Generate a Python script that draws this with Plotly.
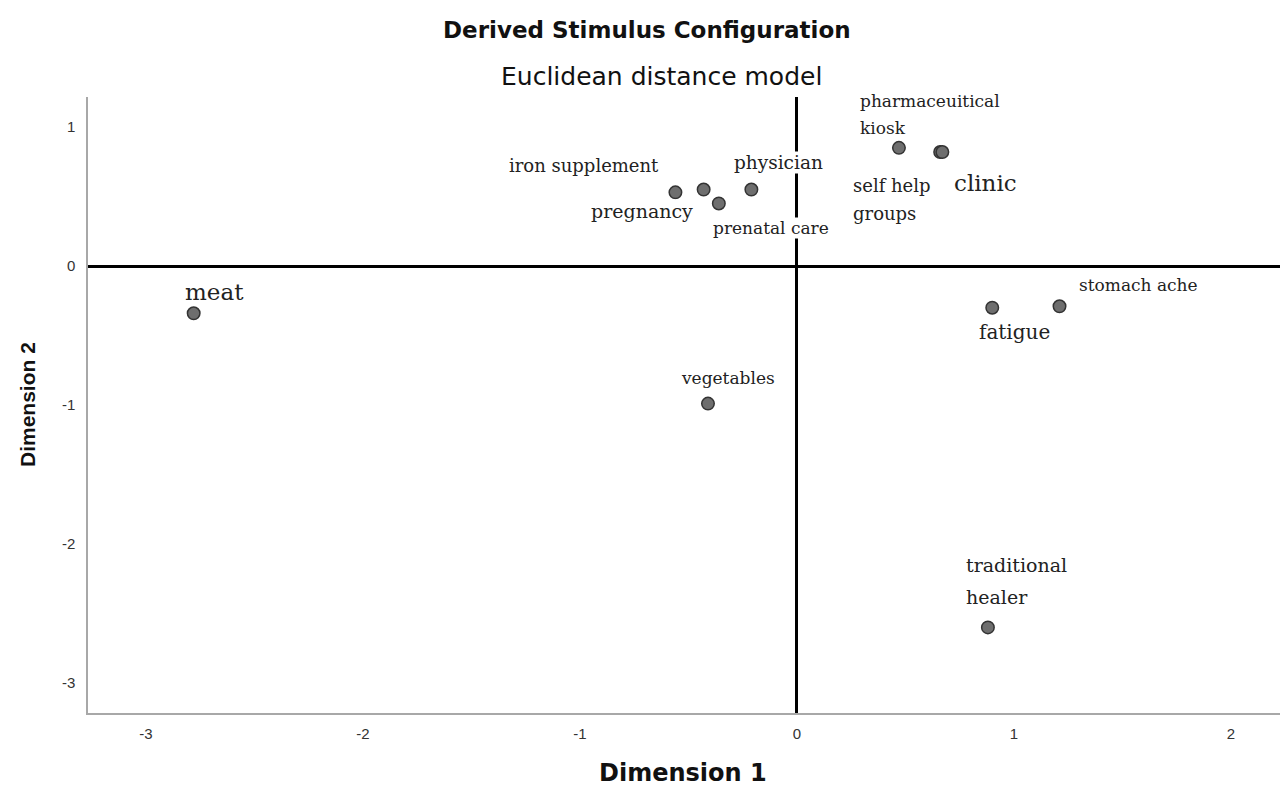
import plotly.graph_objects as go

# ---- data ----
labels = ["meat", "vegetables", "iron supplement", "pregnancy", "prenatal care",
          "physician", "pharmaceuitical<br>kiosk", "self help<br>groups", "clinic",
          "fatigue", "stomach ache", "traditional<br>healer"]
dim1 = [-2.78, -0.41, -0.56, -0.43, -0.36, -0.21, 0.47, 0.66, 0.67, 0.90, 1.21, 0.88]
dim2 = [-0.34, -0.99, 0.53, 0.55, 0.45, 0.55, 0.85, 0.82, 0.82, -0.30, -0.29, -2.60]
x_ticks = [-3, -2, -1, 0, 1, 2]
y_ticks = [1, 0, -1, -2, -3]

# ---- label placement (pixels relative to the point): xshift, yshift(first line), xanchor, size ----
label_style = [
    (21, 21, "center", 23),
    (20, 26, "center", 17),
    (-91, 27, "center", 18),
    (-62, -21, "center", 19),
    (52, -25, "center", 17),
    (27, 27, "center", 18.5),
    (-40, 47, "left", 17),
    (-88, -33, "left", 18),
    (11, -31, "left", 23),
    (22, -24, "center", 20),
    (79, 21, "center", 17),
    (-23, 62, "left", 19),
]
line_gap = [0, 0, 0, 0, 0, 0, 27, 28, 0, 0, 0, 32]

fig = go.Figure()
fig.add_trace(go.Scatter(
    x=dim1, y=dim2, mode="markers",
    marker=dict(size=12.5, color="#6e6e6e", line=dict(color="#333333", width=1.5)),
    hoverinfo="skip", showlegend=False,
))

for i, lab in enumerate(labels):
    xs, ys, xa, sz = label_style[i]
    for j, line in enumerate(lab.split("<br>")):
        fig.add_annotation(
            x=dim1[i], y=dim2[i], xref="x", yref="y", text=line, showarrow=False,
            xanchor=xa, yanchor="middle", xshift=xs, yshift=ys - j * line_gap[i],
            font=dict(family="DejaVu Sans", size=sz, color="#222222") if False else
                 dict(family="DejaVu Serif", size=sz, color="#222222"),
            bgcolor="white", borderpad=0,
        )

# titles
fig.add_annotation(x=(647 - 88) / 1192, y=1, xref="paper", yref="paper", yanchor="middle",
                   yshift=97 - 30, text="<b>Derived Stimulus Configuration</b>",
                   showarrow=False,
                   font=dict(family="DejaVu Sans", size=23, color="#111111"))
fig.add_annotation(x=(661 - 88) / 1192, y=1, xref="paper", yref="paper", yanchor="middle",
                   yshift=97 - 76, text="Euclidean distance model", showarrow=False,
                   font=dict(family="DejaVu Sans", size=25, color="#111111"))
# axis titles
fig.add_annotation(x=(683 - 88) / 1192, y=0, xref="paper", yref="paper", yanchor="middle",
                   yshift=-(773 - 713), text="<b>Dimension 1</b>", showarrow=False,
                   font=dict(family="DejaVu Sans", size=24, color="#111111"))
fig.add_annotation(x=0, y=0.5, xref="paper", yref="paper", xanchor="center", yanchor="middle",
                   xshift=-(88 - 27), textangle=-90, text="<b>Dimension 2</b>", showarrow=False,
                   font=dict(family="Liberation Sans", size=21, color="#111111"))

fig.update_xaxes(
    range=[-3.267, 2.226], tickvals=x_ticks, ticktext=[str(v) for v in x_ticks],
    showgrid=False, zeroline=True, zerolinecolor="black", zerolinewidth=3,
    showline=True, linecolor="#a8a8a8", linewidth=1.5, mirror=False, ticks="",
    ticklabelstandoff=6,
    tickfont=dict(family="Liberation Sans", size=15, color="#333333"),
)
fig.update_yaxes(
    range=[-3.216, 1.216], tickvals=y_ticks, ticktext=[str(v) for v in y_ticks],
    showgrid=False, zeroline=True, zerolinecolor="black", zerolinewidth=3,
    showline=True, linecolor="#a8a8a8", linewidth=1.5, mirror=False, ticks="",
    ticklabelstandoff=8,
    tickfont=dict(family="Liberation Sans", size=15, color="#333333"),
)

fig.update_layout(
    width=1280, height=791, autosize=False,
    margin=dict(l=88, r=0, t=97, b=78, pad=0),
    plot_bgcolor="white", paper_bgcolor="white",
)

fig.write_html("out.html", config={"displayModeBar": False},
               post_script="document.body.style.margin='0';")
